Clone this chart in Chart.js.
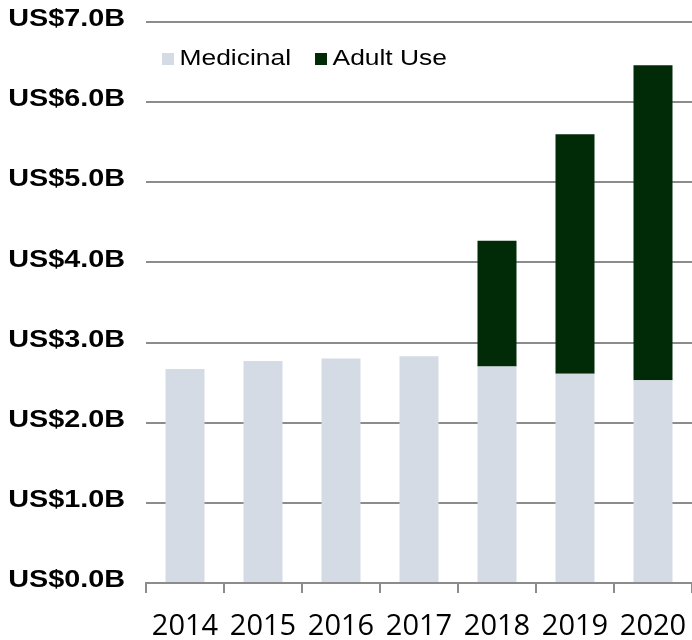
<!DOCTYPE html>
<html>
<head>
<meta charset="utf-8">
<script src="https://cdn.jsdelivr.net/npm/chart.js@4.4.1/dist/chart.umd.min.js"></script>
<style>
  html, body { margin:0; padding:0; background:#fff; }
  canvas { display:block; }
</style>
</head>
<body>
<canvas id="chartSales" width="692" height="640"></canvas>
<script>
// =====================================
// DATA
// =====================================

const years = ["2014","2015","2016","2017","2018","2019","2020"];

const medicinal = [2.67, 2.77, 2.80, 2.83, 2.70, 2.61, 2.53];
const adultUse  = [null, null, null, null, 1.57, 2.99, 3.93];

const yTickLabels = [
    "US$0.0B","US$1.0B","US$2.0B","US$3.0B",
    "US$4.0B","US$5.0B","US$6.0B","US$7.0B"
];

const GRID = "#8c8c8c";
const STRETCH = 1.2;      // text in the original is drawn a bit wide
const Y_PAD = 21;


// =====================================
// TEXT TWEAKS + LEGEND
// =====================================

// y labels are drawn after the bars (ticks.z = 1), widened and lifted a bit
const textTweaks = {
    id: "textTweaks",

    afterDatasetsDraw(chart){
        const ctx = chart.ctx;
        const x0 = chart.scales.y.right - Y_PAD;
        ctx.save();
        ctx.translate(x0, -2.5);
        ctx.scale(STRETCH, 1);
        ctx.translate(-x0, 0);
    },

    afterDraw(chart){
        const ctx = chart.ctx;
        ctx.restore();

        // legend inside the plot
        ctx.save();
        ctx.font = "22px 'Liberation Sans', Arial, sans-serif";
        ctx.textBaseline = "middle";

        let x = chart.chartArea.left + 16;
        const y = chart.chartArea.top + 37;

        chart.data.datasets.forEach(ds=>{
            ctx.fillStyle = ds.backgroundColor;
            ctx.fillRect(x, y - 6, 12, 12);
            x += 17.5;

            ctx.save();
            ctx.translate(x, y);
            ctx.scale(STRETCH, 1);
            ctx.fillStyle = "#000";
            ctx.fillText(ds.label, 0, 0);
            ctx.restore();

            x += ctx.measureText(ds.label).width * STRETCH + 24;
        });

        ctx.restore();
    }
};


// =====================================
// CHART
// =====================================

new Chart(document.getElementById("chartSales"),{

    type:"bar",

    data:{
        labels: years,
        datasets:[
            {
                label:"Medicinal",
                data: medicinal,
                backgroundColor:"#d5dbe4",
                barPercentage:0.5,
                categoryPercentage:1
            },
            {
                label:"Adult Use",
                data: adultUse,
                backgroundColor:"#012a06",
                barPercentage:0.5,
                categoryPercentage:1
            }
        ]
    },

    options:{
        responsive:false,
        animation:false,
        layout:{ padding:{ top:22, right:0, left:0, bottom:0 } },

        plugins:{
            legend:{ display:false },
            tooltip:{ enabled:false }
        },

        scales:{
            x:{
                stacked:true,
                afterFit(scale){
                    scale.height = 57;
                    scale.paddingLeft = 0;
                    scale.paddingRight = 0;
                },
                grid:{
                    offset:true,
                    drawOnChartArea:false,
                    drawTicks:true,
                    tickLength:10,
                    color:GRID,
                    lineWidth:2
                },
                border:{ display:true, color:GRID, width:2 },
                ticks:{
                    color:"#000",
                    padding:16,
                    maxRotation:0,
                    font:{ family:"'Open Sans'", size:29 }
                }
            },

            y:{
                stacked:true,
                min:0,
                max:7,
                afterFit(scale){
                    scale.width = 146;
                    scale.paddingTop = 0;
                    scale.paddingBottom = 0;
                },
                grid:{
                    drawTicks:false,
                    color:GRID,
                    lineWidth:2
                },
                border:{ display:false },
                ticks:{
                    z:1,
                    stepSize:1,
                    padding:Y_PAD,
                    color:"#000",
                    font:{ family:"'Liberation Sans'", size:24, weight:"bold" },
                    callback:(v, i)=>yTickLabels[i]
                }
            }
        }
    },

    plugins:[textTweaks]
});
</script>
</body>
</html>
